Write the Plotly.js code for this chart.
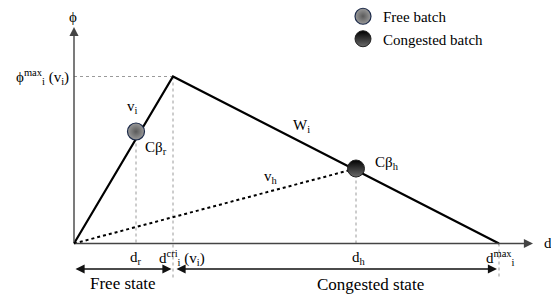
<!DOCTYPE html>
<html><head><meta charset="utf-8">
<script src="https://cdn.plot.ly/plotly-3.0.1.min.js"></script>
<style>html,body{margin:0;padding:0;background:#fff;} #chart{width:551px;height:298px;}</style>
</head><body><div id="chart"></div>
<script>
// Key densities on the d axis (diagram units)
const dLabels = ['d_r', 'd_cri', 'd_h', 'd_max'];
const dValues = [62, 99, 282, 425];
// Maximum flow at critical density
const phiMax = 167;
// Batches (density, flow)
const batchNames = ['Free batch', 'Congested batch'];
const batchD = [62, 282];
const batchPhi = [112, 75];
// Axis extents
const axisEnds = {d: 459, phi: 216.5};
const arrowRowPhi = -25.5;
const guideBottom = -34.5;

const [dr, dcri, dh, dmax] = dValues;
const FONT = 'Liberation Serif, Times New Roman, serif';

const traces = [
  { // light dotted guides
    x: [0, dcri, null, dcri, dcri, null, batchD[0], batchD[0], null, batchD[1], batchD[1], null, dmax, dmax],
    y: [phiMax, phiMax, null, phiMax, guideBottom, null, batchPhi[0], 0, null, batchPhi[1], 0, null, 0, guideBottom],
    mode: 'lines', line: {color: '#9a9a9a', width: 1, dash: 'dot'}, showlegend: false, hoverinfo: 'skip'
  },
  { // v_h dotted line
    x: [0, batchD[1]], y: [0, batchPhi[1]],
    mode: 'lines', line: {color: '#000', width: 2, dash: 'dot'}, showlegend: false, hoverinfo: 'skip'
  },
  { // triangular fundamental diagram
    x: [0, dcri, dmax], y: [0, phiMax, 0],
    mode: 'lines', line: {color: '#000', width: 2.2}, showlegend: false, hoverinfo: 'skip'
  },
  {
    name: batchNames[0], x: [batchD[0]], y: [batchPhi[0]], mode: 'markers',
    marker: {size: 17, color: '#9a9a9a', line: {color: '#1d2b4a', width: 1.2},
             gradient: {type: 'radial', color: '#5a5a5a'}}
  },
  {
    name: batchNames[1], x: [batchD[1]], y: [batchPhi[1]], mode: 'markers',
    marker: {size: 17, color: '#000', line: {color: '#222', width: 1},
             gradient: {type: 'vertical', color: '#6a6a6a'}}
  }
];

function lab(text, x, y, opts) {
  return Object.assign({text: text, x: x, y: y, xref: 'x', yref: 'y', showarrow: false,
    font: {family: FONT, size: 15, color: '#000'}}, opts || {});
}
function arrow(x, y, ax, ay, opts) {
  return Object.assign({text: '', x: x, y: y, ax: ax, ay: ay, xref: 'x', yref: 'y', axref: 'x', ayref: 'y',
    showarrow: true, arrowhead: 2, arrowsize: 1.3, arrowwidth: 1.4, arrowcolor: '#333', standoff: 0}, opts || {});
}

const annotations = [
  // axes
  arrow(axisEnds.d, 0, 0, 0, {arrowcolor: '#444'}),
  arrow(0, axisEnds.phi, 0, 0, {arrowcolor: '#444'}),
  lab('ϕ', 0, axisEnds.phi, {yshift: 10, xshift: -1}),
  lab('d', axisEnds.d, 0, {xanchor: 'left', xshift: 9, yshift: 1}),
  // state arrows
  arrow(dcri, arrowRowPhi, 0, arrowRowPhi, {arrowside: 'end+start', standoff: 1.5, arrowcolor: '#111'}),
  arrow(dmax, arrowRowPhi, dcri, arrowRowPhi, {arrowside: 'end+start', standoff: 2, startstandoff: 2, arrowcolor: '#111'}),
  lab('Free state', dcri / 2, arrowRowPhi, {yshift: -14, xshift: -1, font: {family: FONT, size: 17, color: '#000'}}),
  lab('Congested state', (dcri + dmax) / 2, arrowRowPhi, {yshift: -15, xshift: 34, font: {family: FONT, size: 17, color: '#000'}}),
  // tick-like labels
  lab('d<sub>r</sub>', dr, 0, {yshift: -14}),
  lab('d<sup>cri</sup><sub>i</sub> (v<sub>i</sub>)', dcri, 0, {xanchor: 'left', xshift: -16, yshift: -14}),
  lab('d<sub>h</sub>', dh, 0, {yshift: -14, xshift: 3}),
  lab('d<sup>max</sup><sub>i</sub>', dmax, 0, {yshift: -14, xshift: 1}),
  lab('ϕ<sup>max</sup><sub>i</sub> (v<sub>i</sub>)', 0, phiMax, {xanchor: 'right', xshift: -3}),
  // line / point labels
  lab('v<sub>i</sub>', batchD[0], batchPhi[0], {xshift: -4, yshift: 25}),
  lab('Cβ<sub>r</sub>', batchD[0], batchPhi[0], {xanchor: 'left', xshift: 7, yshift: -16}),
  lab('W<sub>i</sub>', dcri + 0.7 * (dh - dcri), phiMax + 0.7 * (batchPhi[1] - phiMax), {yshift: 15}),
  lab('v<sub>h</sub>', 0.7 * batchD[1], 0.7 * batchPhi[1], {yshift: 14}),
  lab('Cβ<sub>h</sub>', batchD[1], batchPhi[1], {xanchor: 'left', xshift: 17, yshift: 6})
];

const layout = {
  width: 551, height: 298,
  margin: {l: 0, r: 0, t: 0, b: 0},
  paper_bgcolor: '#fff', plot_bgcolor: '#fff',
  font: {family: FONT, size: 15, color: '#000'},
  xaxis: {range: [-74, 477], visible: false, fixedrange: true},
  yaxis: {range: [-54.5, 243.5], visible: false, fixedrange: true},
  showlegend: true,
  legend: {x: 343 / 551, y: 1, xanchor: 'left', yanchor: 'top', bgcolor: 'rgba(0,0,0,0)',
           font: {family: FONT, size: 15, color: '#000'}, itemsizing: 'trace', borderwidth: 0},
  annotations: annotations
};

Plotly.newPlot('chart', traces, layout, {displayModeBar: false, staticPlot: true});
</script></body></html>
